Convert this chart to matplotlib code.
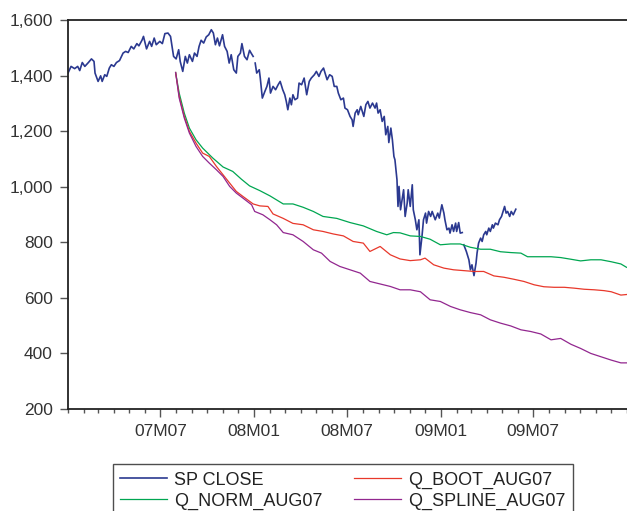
import numpy as np
import pandas as pd
import matplotlib
matplotlib.use("Agg")
import matplotlib.pyplot as plt
import matplotlib.dates as mdates
from matplotlib.ticker import FuncFormatter

plt.rcParams['font.family'] = ['Liberation Sans', 'DejaVu Sans']

start = pd.Timestamp('2007-01-01')
end = pd.Timestamp('2010-01-01')

# S&P 500 close, days counted from 2007-01-01 (nan = missing day)
sp_day = [0, 6, 13, 19, 23, 28, 33, 40, 46, 51, 53, 59, 64, 67, 72, 76, 81, 85, 90, 95,
          101, 108, 113, 118, 124, 129, 135, 139, 145, 148, 154, 160, 164, 169, 173, 180,
          185, 190, 196, 201, 207, 212, 217, 220, 225, 230, 234, 238, 244, 248, 253, 257,
          261, 266, 271, 276, 281, 285, 289, 293, 297, 303, 307, 312, 316, 320, 325, 330,
          333, 338, 341, 346, 351, 356, 359, 363, 365, 367, 370, 375, 377, 381, 386, 390,
          394, 397, 402, 407, 412, 416, 421, 425, 428, 431, 435, 438, 441, 445, 450, 453,
          458, 463, 468, 473, 477, 483, 487, 492, 496, 501, 505, 508, 513, 518, 522, 527,
          530, 535, 540, 543, 548, 553, 557, 559, 563, 567, 569, 574, 580, 584, 588, 592,
          597, 602, 605, 608, 612, 616, 620, 623, 627, 629, 633, 636, 639, 641, 645, 647,
          649, 652, 658, 661, 665, 667, 671, 675, 677, 681, 684, 688, 690, 694, 697, 701,
          703, 707, 711, 714, 720, 725, 728, 733, 737, 739, 743, 747, 749, 753, 756, 760,
          762, 766, 769, 773, 774, 776, 781, 786, 789, 792, 796, 800, 802, 805, 809, 812,
          815, 819, 821, 825, 828, 832, 834, 838, 843, 846, 850, 853, 856, 859, 862, 866,
          869, 873, 878]
sp_close = [1409, 1433, 1425, 1433, 1418, 1447, 1433, 1447, 1460, 1451, 1409, 1379, 1399,
            1379, 1403, 1397, 1427, 1439, 1433, 1447, 1454, 1481, 1487, 1483, 1505, 1496,
            1515, 1507, 1527, 1541, 1496, 1523, 1505, 1535, 1511, 1523, 1515, 1551, 1553,
            1541, 1469, 1460, 1493, 1451, 1415, 1469, 1445, 1475, 1451, 1481, 1469, 1505,
            1527, 1517, 1539, 1547, 1565, 1553, 1511, 1535, 1507, 1547, 1505, 1487, 1445,
            1475, 1421, 1409, 1469, 1481, 1515, 1469, 1457, 1491, 1481, 1469, np.nan, 1445,
            1409, 1421, 1391, 1319, 1343, 1361, 1391, 1337, 1361, 1349, 1367, 1379, 1349,
            1331, 1307, 1277, 1319, 1295, 1331, 1313, 1319, 1373, 1367, 1391, 1331, 1379,
            1391, 1403, 1415, 1397, 1415, 1427, 1403, 1385, 1403, 1397, 1361, 1361, 1337,
            1313, 1319, 1283, 1277, 1253, 1241, 1217, 1265, 1277, 1259, 1289, 1253, 1295,
            1307, 1283, 1301, 1283, 1301, 1265, 1277, 1235, 1253, 1187, 1217, 1159, 1211,
            1169, 1109, 1097, 1025, 929, 1001, 917, 989, 893, 941, 989, 929, 1007, 917, 881,
            845, 881, 755, 821, 881, 905, 869, 911, 893, 911, 881, 905, 887, 935, 905, 881,
            845, 851, 833, 863, 839, 869, 839, 871, 833, 835, np.nan, 791, 767, 737, 701,
            719, 680, 725, 761, 797, 815, 803, 827, 839, 827, 851, 839, 863, 851, 869, 863,
            881, 893, 911, 929, 905, 911, 893, 911, 899, 919]

# quantile paths starting in August 2007
q_norm_day = [211, 218, 228, 238, 251, 264, 284, 304, 323, 340, 356, 376, 396, 422, 441,
              461, 481, 500, 527, 553, 579, 605, 625, 638, 651, 671, 691, 710, 730, 750,
              769, 789, 809, 828, 848, 868, 888, 901, 927, 947, 966, 986, 1005, 1025, 1045,
              1065, 1084, 1095]
q_norm = [1411, 1337, 1265, 1211, 1169, 1139, 1103, 1071, 1055, 1027, 1003, 986, 967, 938,
          938, 926, 911, 893, 886, 871, 859, 839, 827, 835, 834, 823, 821, 811, 791, 794,
          794, 782, 775, 775, 766, 763, 761, 748, 748, 748, 745, 739, 733, 737, 737, 730,
          722, 710]

q_boot_day = [211, 218, 228, 238, 251, 264, 277, 291, 304, 317, 330, 343, 363, 376, 392,
              402, 422, 441, 461, 481, 500, 520, 540, 559, 579, 592, 612, 632, 651, 671,
              691, 700, 717, 737, 756, 776, 796, 815, 835, 855, 874, 894, 914, 933, 953,
              973, 992, 1012, 1032, 1051, 1065, 1084, 1095]
q_boot = [1411, 1325, 1253, 1199, 1157, 1121, 1109, 1073, 1043, 1013, 983, 965, 938, 931,
          929, 902, 886, 868, 863, 845, 839, 830, 823, 803, 797, 767, 785, 755, 740, 734,
          737, 743, 719, 707, 701, 698, 695, 695, 679, 674, 667, 659, 647, 640, 638, 638,
          635, 631, 629, 626, 622, 610, 612]

q_spline_day = [211, 218, 228, 238, 251, 264, 277, 291, 304, 317, 330, 343, 360, 366, 382,
                396, 409, 422, 441, 461, 481, 497, 514, 533, 553, 573, 592, 612, 632, 651,
                671, 691, 710, 730, 750, 769, 789, 809, 828, 848, 868, 888, 907, 927, 947,
                966, 986, 1005, 1025, 1045, 1065, 1084, 1095]
q_spline = [1411, 1319, 1247, 1193, 1145, 1109, 1085, 1061, 1037, 1001, 977, 959, 935, 911,
            899, 881, 863, 835, 827, 803, 773, 761, 731, 713, 701, 689, 659, 650, 641, 629,
            629, 622, 593, 587, 569, 557, 547, 539, 521, 509, 499, 485, 479, 470, 449, 454,
            433, 418, 400, 388, 376, 366, 366]

tick_labels = ['07M07', '08M01', '08M07', '09M01', '09M07']
tick_dates = ['2007-07-01', '2008-01-01', '2008-07-01', '2009-01-01', '2009-07-01']


def to_dates(days):
    return start + pd.to_timedelta(days, unit='D')


fig = plt.figure(figsize=(6.27, 5.11), dpi=100)
ax = fig.add_axes([68 / 627, 1 - 409 / 511, 1 - 68 / 627, (409 - 20) / 511])

ax.plot(to_dates(sp_day), sp_close, color='#2b3990', lw=1.2, label='SP CLOSE')
ax.plot(to_dates(q_norm_day), q_norm, color='#00a651', lw=0.9, label='Q_NORM_AUG07')
ax.plot(to_dates(q_boot_day), q_boot, color='#e8382b', lw=0.9, label='Q_BOOT_AUG07')
ax.plot(to_dates(q_spline_day), q_spline, color='#92278f', lw=0.9, label='Q_SPLINE_AUG07')

ax.set_xlim(start, end)
ax.set_ylim(200, 1600)
ax.set_yticks(range(200, 1601, 200))
ax.yaxis.set_major_formatter(FuncFormatter(lambda v, p: f'{v:,.0f}'))

ax.set_xticks(pd.to_datetime(tick_dates))
ax.set_xticklabels(tick_labels)
ax.xaxis.set_minor_locator(mdates.MonthLocator())

ax.spines['right'].set_visible(False)
for s in ['left', 'bottom', 'top']:
    ax.spines[s].set_color('#222222')
    ax.spines[s].set_linewidth(1.3)

ax.tick_params(axis='both', which='major', direction='out', color='#555555',
               labelcolor='#333333', labelsize=12.5, width=1.0)
ax.tick_params(axis='y', length=6, pad=5)
ax.tick_params(axis='x', which='major', length=6, pad=5)
ax.tick_params(axis='x', which='minor', length=3, width=1.0, color='#555555')

handles, labels = ax.get_legend_handles_labels()
leg = fig.legend(handles, labels,
                 loc='upper left', bbox_to_anchor=(112.5 / 627, 1 - 464 / 511),
                 borderaxespad=0, ncol=2, fancybox=False, frameon=True,
                 fontsize=13, handlelength=2.6, handletextpad=0.4,
                 columnspacing=1.75, labelspacing=0.22, borderpad=0.42)
leg.get_frame().set_edgecolor('#222222')
leg.get_frame().set_linewidth(1.0)
for t in leg.get_texts():
    t.set_color('#222222')

fig.savefig('out.png', dpi=100)
